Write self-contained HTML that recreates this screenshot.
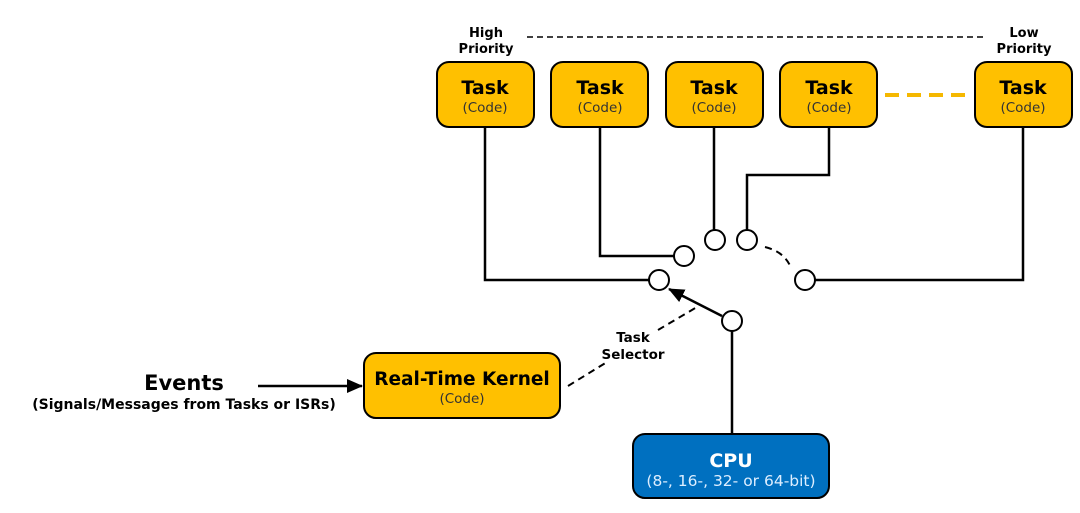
<!DOCTYPE html>
<html><head><style>
body{margin:0;background:#fff;}
svg text{font-family:"DejaVu Sans","Liberation Sans",sans-serif;}
</style></head><body>
<svg width="1080" height="508" viewBox="0 0 1080 508" xmlns="http://www.w3.org/2000/svg">
<defs><marker id="ah2" markerWidth="16" markerHeight="14" refX="15" refY="7" orient="auto" markerUnits="userSpaceOnUse"><path d="M0,0 L16,7 L0,14 z" fill="#000"/></marker></defs>
<g font-weight="bold" font-size="13" text-anchor="middle" fill="#000">
<text x="486" y="37">High</text><text x="486" y="53">Priority</text>
<text x="1024" y="37">Low</text><text x="1024" y="53">Priority</text>
</g>
<line x1="527" y1="37" x2="985" y2="37" stroke="#000" stroke-width="1.5" stroke-dasharray="6,4"/>
<line x1="885" y1="95" x2="968" y2="95" stroke="#f5b800" stroke-width="4" stroke-dasharray="14,8"/>
<g stroke="#000" stroke-width="2.5" fill="none">
<polyline points="485,127 485,280 649,280"/>
<polyline points="600,127 600,256 674,256"/>
<polyline points="714,127 714,230"/>
<polyline points="829,127 829,175 747,175 747,230"/>
<polyline points="1023,127 1023,280 815,280"/>
<line x1="732" y1="331" x2="732" y2="435"/>
<line x1="722" y1="316" x2="669" y2="289" marker-end="url(#ah2)"/>
<line x1="258" y1="386" x2="362" y2="386" marker-end="url(#ah2)"/>
</g>
<g stroke="#000" stroke-width="2" fill="none" stroke-dasharray="7,5">
<path d="M765,247 Q785,252 791,268"/>
<line x1="568" y1="386" x2="607" y2="362"/>
<line x1="658" y1="330" x2="697" y2="307"/>
</g>
<g stroke="#000" stroke-width="2" fill="#fff">
<circle cx="659" cy="280" r="10"/><circle cx="684" cy="256" r="10"/>
<circle cx="715" cy="240" r="10"/><circle cx="747" cy="240" r="10"/>
<circle cx="805" cy="280" r="10"/><circle cx="732" cy="321" r="10"/>
</g>
<g stroke="#000" stroke-width="2" fill="#ffc000">
<rect x="437" y="62" width="97" height="65" rx="12"/>
<rect x="551" y="62" width="97" height="65" rx="12"/>
<rect x="666" y="62" width="97" height="65" rx="12"/>
<rect x="780" y="62" width="97" height="65" rx="12"/>
<rect x="975" y="62" width="97" height="65" rx="12"/>
<rect x="364" y="353" width="196" height="65" rx="12"/>
</g>
<rect x="633" y="434" width="196" height="64" rx="12" fill="#0070c0" stroke="#000" stroke-width="2"/>
<g text-anchor="middle">
<g font-weight="bold" font-size="19"><text x="485" y="94">Task</text><text x="600" y="94">Task</text><text x="714" y="94">Task</text><text x="829" y="94">Task</text><text x="1023" y="94">Task</text></g>
<g font-size="13.5" fill="#333"><text x="485" y="112">(Code)</text><text x="600" y="112">(Code)</text><text x="714" y="112">(Code)</text><text x="829" y="112">(Code)</text><text x="1023" y="112">(Code)</text></g>
<text x="462" y="385" font-weight="bold" font-size="18.5">Real-Time Kernel</text>
<text x="462" y="403" font-size="13.5" fill="#333">(Code)</text>
<text x="731" y="467" font-weight="bold" font-size="19" fill="#fff">CPU</text>
<text x="731" y="486" font-size="15.5" fill="#ddeeff">(8-, 16-, 32- or 64-bit)</text>
<text x="184" y="390" font-weight="bold" font-size="21">Events</text>
<text x="184" y="409" font-weight="bold" font-size="14">(Signals/Messages from Tasks or ISRs)</text>
<text x="633" y="342" font-weight="bold" font-size="13.5">Task</text>
<text x="633" y="359" font-weight="bold" font-size="13.5">Selector</text>
</g>
</svg>
</body></html>
